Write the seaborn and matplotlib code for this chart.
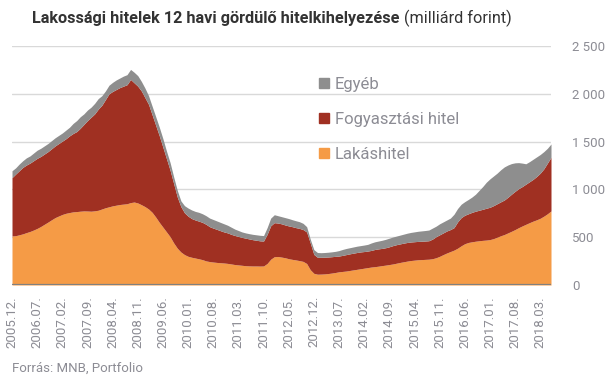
import numpy as np
import pandas as pd
import matplotlib
matplotlib.use("Agg")
import matplotlib.pyplot as plt
from matplotlib.lines import Line2D
import seaborn as sns

# Monthly data 2005.12 .. 2018.06 (billion HUF, 12-month rolling)
lakashitel = [
    513, 516, 525, 535, 548, 560, 575, 592, 612, 635, 658, 682, 705, 722, 738, 750,
    758, 765, 768, 772, 775, 774, 772, 776, 782, 795, 808, 818, 828, 835, 842, 846,
    850, 862, 868, 858, 840, 820, 795, 760, 710, 655, 605, 555, 505, 440, 385, 345,
    318, 300, 290, 282, 274, 265, 252, 245, 240, 236, 233, 230, 226, 220, 214, 210,
    206, 202, 200, 199, 199, 198, 199, 225, 270, 296, 298, 292, 285, 275, 268, 262,
    255, 247, 225, 160, 122, 113, 114, 116, 120, 125, 131, 138, 142, 146, 152, 158,
    164, 170, 176, 182, 188, 192, 197, 203, 208, 214, 220, 228, 236, 243, 250, 256,
    260, 264, 266, 268, 270, 275, 285, 300, 318, 335, 350, 365, 385, 410, 432, 445,
    452, 458, 463, 467, 470, 475, 485, 500, 515, 528, 545, 562, 580, 600, 618, 635,
    652, 668, 682, 698, 720, 745, 775,
]
fogyasztasi = [
    610, 644, 670, 695, 707, 715, 725, 733, 733, 735, 737, 743, 750, 758, 767, 780,
    802, 820, 837, 868, 905, 946, 983, 1014, 1058, 1085, 1132, 1182, 1197, 1210, 1223, 1234,
    1245, 1288, 1247, 1222, 1190, 1140, 1095, 1020, 960, 905, 835, 765, 695, 620, 535, 475,
    437, 420, 405, 398, 394, 390, 383, 365, 355, 346, 335, 325, 319, 310, 304, 298,
    292, 288, 282, 275, 269, 264, 261, 305, 350, 356, 350, 348, 343, 343, 342, 338,
    337, 333, 330, 280, 198, 177, 176, 175, 173, 171, 169, 165, 168, 172, 174, 175,
    176, 176, 174, 173, 174, 180, 181, 180, 182, 186, 192, 194, 194, 195, 195, 194,
    193, 192, 192, 192, 193, 205, 220, 225, 227, 230, 230, 235, 275, 295, 298, 300,
    308, 314, 319, 325, 333, 338, 345, 350, 355, 361, 373, 388, 400, 408, 412, 420,
    428, 437, 453, 472, 495, 530, 561,
]
egyeb = [
    72, 65, 70, 70, 75, 75, 80, 85, 85, 85, 85, 85, 85, 85, 85, 90,
    90, 105, 115, 120, 110, 110, 105, 110, 110, 100, 90, 90, 95, 100, 100, 105,
    105, 105, 110, 110, 100, 100, 90, 90, 90, 90, 90, 80, 80, 70, 70, 60,
    75, 85, 90, 90, 92, 90, 90, 90, 90, 88, 87, 85, 80, 75, 67, 62,
    57, 55, 55, 56, 57, 58, 57, 70, 80, 83, 77, 75, 77, 77, 73, 72,
    70, 65, 55, 40, 50, 50, 48, 49, 50, 51, 52, 57, 62, 64, 64, 65,
    66, 66, 68, 70, 78, 80, 82, 85, 88, 90, 90, 90, 92, 94, 97, 100,
    103, 106, 108, 110, 112, 115, 110, 115, 115, 115, 120, 140, 140, 140, 142, 150,
    160, 178, 208, 238, 272, 297, 310, 320, 335, 346, 337, 320, 298, 272, 245, 213,
    210, 210, 205, 195, 180, 155, 139,
]
series_names = ["Lakáshitel", "Fogyasztási hitel", "Egyéb"]
series_colors = ["#F59B46", "#A03022", "#8E8E8E"]
tick_labels = [
    "2005.12.", "2006.07.", "2007.02.", "2007.09.", "2008.04.", "2008.11.",
    "2009.06.", "2010.01.", "2010.08.", "2011.03.", "2011.10.", "2012.05.",
    "2012.12.", "2013.07.", "2014.02.", "2014.09.", "2015.04.", "2015.11.",
    "2016.06.", "2017.01.", "2017.08.", "2018.03.",
]
y_ticks = [0, 500, 1000, 1500, 2000, 2500]
y_tick_labels = ["0", "500", "1 000", "1 500", "2 000", "2 500"]

months = pd.date_range("2005-12-01", periods=len(lakashitel), freq="MS")
df = pd.DataFrame({"date": months, "Lakáshitel": lakashitel,
                   "Fogyasztási hitel": fogyasztasi, "Egyéb": egyeb})
df["pos"] = np.arange(len(df))

sns.set_theme(style="white")
plt.rcParams["font.family"] = ["Roboto", "DejaVu Sans"]

W, H = 605, 378
fig = plt.figure(figsize=(W / 100, H / 100), dpi=100)
ax = fig.add_axes([12 / W, 1 - 285 / H, (551 - 12) / W, (285 - 46) / H])

ax.stackplot(df["pos"], df["Lakáshitel"], df["Fogyasztási hitel"], df["Egyéb"],
             colors=series_colors, linewidth=0, zorder=2)

ax.set_xlim(df["pos"].iloc[0], df["pos"].iloc[-1])
ax.set_ylim(0, 2500)
for v in y_ticks[1:]:
    ax.axhline(v, color="#D9D9D9", lw=1.0, zorder=1)
ax.axhline(0, color="#808080", lw=1.6, zorder=3)

for s in ax.spines.values():
    s.set_visible(False)

tick_pos = df["pos"].values[::7][:len(tick_labels)]
ax.set_xticks(tick_pos)
ax.set_xticklabels(tick_labels, rotation=90, fontsize=9.5, color="#8C8C94")
ax.tick_params(axis="x", length=0, pad=8)

ax.yaxis.tick_right()
ax.set_yticks(y_ticks)
ax.set_yticklabels(y_tick_labels, fontsize=9.5, color="#8C8C94", ha="left")
ax.tick_params(axis="y", length=0, pad=15)
ax.grid(False)

handles = [Line2D([], [], marker="s", linestyle="none", markersize=7.5,
                  markerfacecolor=c, markeredgecolor=c)
           for c in series_colors]
leg = ax.legend(handles[::-1], series_names[::-1], loc="upper left",
                bbox_to_anchor=(318 / W, 1 - 77 / H), bbox_transform=fig.transFigure,
                frameon=False, fontsize=12, labelspacing=1.2, handlelength=0.7,
                handletextpad=0.3, borderpad=0, borderaxespad=0)
for t in leg.get_texts():
    t.set_color("#8C8C94")

fig.text(32 / W, 1 - 18 / H, "Lakossági hitelek 12 havi gördülő hitelkihelyezése",
         fontsize=11.7, fontweight="bold", color="#333333", va="center", ha="left")
fig.canvas.draw()
r = fig.texts[0].get_window_extent()
fig.text((r.x1 + 4) / W, 1 - 18 / H, "(milliárd forint)", fontsize=11.7,
         color="#333333", va="center", ha="left")

fig.text(12 / W, 1 - 368 / H, "Forrás: MNB, Portfolio", fontsize=9.5,
         color="#8C8C94", va="center", ha="left")

fig.savefig("out.png", dpi=100)
